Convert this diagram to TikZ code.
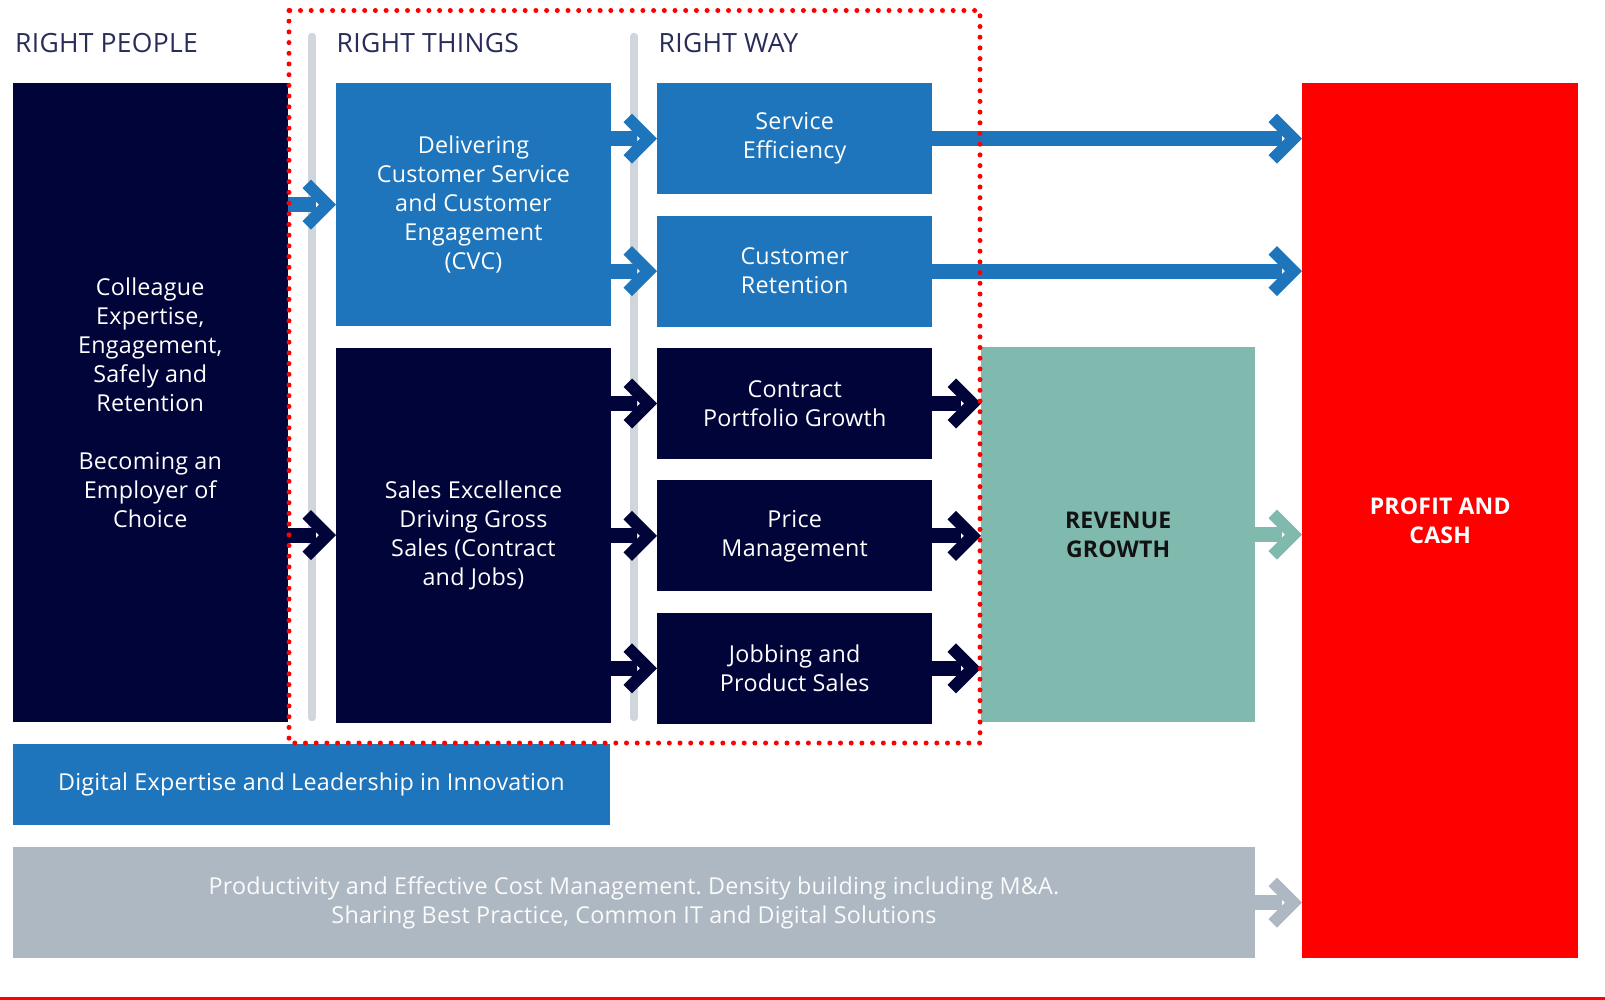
\documentclass[tikz,border=0pt]{standalone}
\usepackage{fontspec}
\setmainfont{Open Sans}[LetterSpace=1]
\usetikzlibrary{arrows.meta, positioning}
\frenchspacing

\definecolor{navy}{RGB}{1,4,56}
\definecolor{midblue}{RGB}{31,117,188}
\definecolor{teal}{RGB}{128,185,173}
\definecolor{costgrey}{RGB}{173,184,194}
\definecolor{bargrey}{RGB}{209,214,221}
\definecolor{headcol}{RGB}{40,44,90}
\definecolor{alertred}{RGB}{255,0,0}

% chevron head for the flow connectors
\pgfdeclarearrow{
  name = Chevron,
  setup code = {
    \pgfarrowssettipend{0pt}
    \pgfarrowssetlineend{-20pt}
    \pgfarrowssetvisualbackend{-20pt}
    \pgfarrowssetbackend{-34pt}
    \pgfarrowshullpoint{0pt}{0pt}
    \pgfarrowshullpoint{-25pt}{25pt}
    \pgfarrowshullpoint{-34pt}{16pt}
    \pgfarrowshullpoint{-34pt}{-16pt}
    \pgfarrowshullpoint{-25pt}{-25pt}
  },
  drawing code = {
    \pgfpathmoveto{\pgfqpoint{0pt}{0pt}}
    \pgfpathlineto{\pgfqpoint{-25pt}{25pt}}
    \pgfpathlineto{\pgfqpoint{-33.5pt}{16.5pt}}
    \pgfpathlineto{\pgfqpoint{-17pt}{0pt}}
    \pgfpathlineto{\pgfqpoint{-33.5pt}{-16.5pt}}
    \pgfpathlineto{\pgfqpoint{-25pt}{-25pt}}
    \pgfpathclose
    \pgfusepathqfill
  }
}

\begin{document}
\begin{tikzpicture}[x=1pt, y=-1pt,
  tile/.style={anchor=north west, inner sep=0pt, align=center, text=white,
    font=\fontsize{23.3}{29}\selectfont},
  navy tile/.style={tile, fill=navy},
  blue tile/.style={tile, fill=midblue},
  way tile/.style={minimum width=275pt, minimum height=111pt},
  head/.style={anchor=base west, inner sep=0pt, text=headcol,
    font=\fontsize{26.5}{30}\selectfont},
  flow/.style={-Chevron, line width=15pt, color=#1},
  divider/.style={bargrey, line width=7.5pt, line cap=round},
  frame/.style={alertred, line width=5pt, line cap=round, dash pattern=on 0pt off 10.7pt}]

  \useasboundingbox (0,0) rectangle (1605,1000);

  % column headings
  \node[head] (people head) at (15,52.5)  {RIGHT PEOPLE};
  \node[head] (things head) at (336.5,52.5)   {RIGHT THINGS};
  \node[head] (way head)    at (658.5,52.5)   {RIGHT WAY};

  % right people
  \node[navy tile, minimum width=275pt, minimum height=639pt] (people) at (12.5,83)
    {Colleague\\Expertise,\\Engagement,\\Safely and\\Retention\\[29pt]Becoming an\\Employer of\\Choice};

  % right things
  \node[blue tile, minimum width=274.5pt, minimum height=243pt] (cvc) at (336,83)
    {Delivering\\Customer Service\\and Customer\\Engagement\\(CVC)};
  \node[navy tile, anchor=north, minimum width=274.5pt, minimum height=375pt] (sales) [below=21pt of cvc]
    {Sales Excellence\\Driving Gross\\Sales (Contract\\and Jobs)};

  % right way
  \node[blue tile, way tile] (service) at (657,83) {Service\\Efficiency};
  \node[blue tile, way tile, anchor=north] (retention) [below=21pt of service] {Customer\\Retention};
  \node[navy tile, way tile, anchor=north] (contract)  [below=21pt of retention] {Contract\\Portfolio Growth};
  \node[navy tile, way tile, anchor=north] (price)     [below=21pt of contract] {Price\\Management};
  \node[navy tile, way tile, anchor=north] (jobbing)   [below=21pt of price] {Jobbing and\\Product Sales};

  % outcomes
  \node[tile, fill=teal, text=black!93, minimum width=274pt, minimum height=375pt,
    font=\fontsize{23}{29}\selectfont\bfseries] (revenue) at (981,347) {REVENUE\\GROWTH};
  \node[tile, fill=alertred, minimum width=276pt, minimum height=875pt,
    font=\fontsize{23}{29}\selectfont\bfseries] (profit) at (1302,83) {PROFIT AND\\CASH};

  % enablers
  \node[blue tile, minimum width=597.5pt, minimum height=81pt] (digital) at (12.5,744)
    {Digital Expertise and Leadership in Innovation};
  \node[tile, fill=costgrey, text=white!95!costgrey, minimum width=1242.5pt, minimum height=111pt] (costs) at (12.5,847)
    {Productivity and Effective Cost Management. Density building including M\&A.\\Sharing Best Practice, Common IT and Digital Solutions};

  % dividers
  \draw[divider] (312,36.5) -- (312,717.5);
  \draw[divider] (634,36.5) -- (634,717.5);

  % flows
  \draw[flow=midblue] (people.east |- cvc.west) -- (cvc.west);
  \draw[flow=navy] (people.east |- sales.west) -- (sales.west);
  \draw[flow=midblue] (cvc.east |- service.west) -- (service.west);
  \draw[flow=midblue] (cvc.east |- retention.west) -- (retention.west);
  \draw[flow=navy] (sales.east |- contract.west) -- (contract.west);
  \draw[flow=navy] (sales.east |- price.west) -- (price.west);
  \draw[flow=navy] (sales.east |- jobbing.west) -- (jobbing.west);
  \draw[flow=navy] (contract.east) -- (revenue.west |- contract.east);
  \draw[flow=navy] (price.east) -- (revenue.west |- price.east);
  \draw[flow=navy] (jobbing.east) -- (revenue.west |- jobbing.east);
  \draw[flow=midblue] (service.east) -- (profit.west |- service.east);
  \draw[flow=midblue] (retention.east) -- (profit.west |- retention.east);
  \draw[flow=teal] (revenue.east) -- (profit.west |- revenue.east);
  \draw[flow=costgrey] (costs.east) -- (profit.west |- costs.east);

  % dotted frame and base rule
  \draw[frame] (289,10.5) rectangle (980,743);
  \draw[alertred, line width=3pt] (0,998.5) -- (1605,998.5);
\end{tikzpicture}
\end{document}
